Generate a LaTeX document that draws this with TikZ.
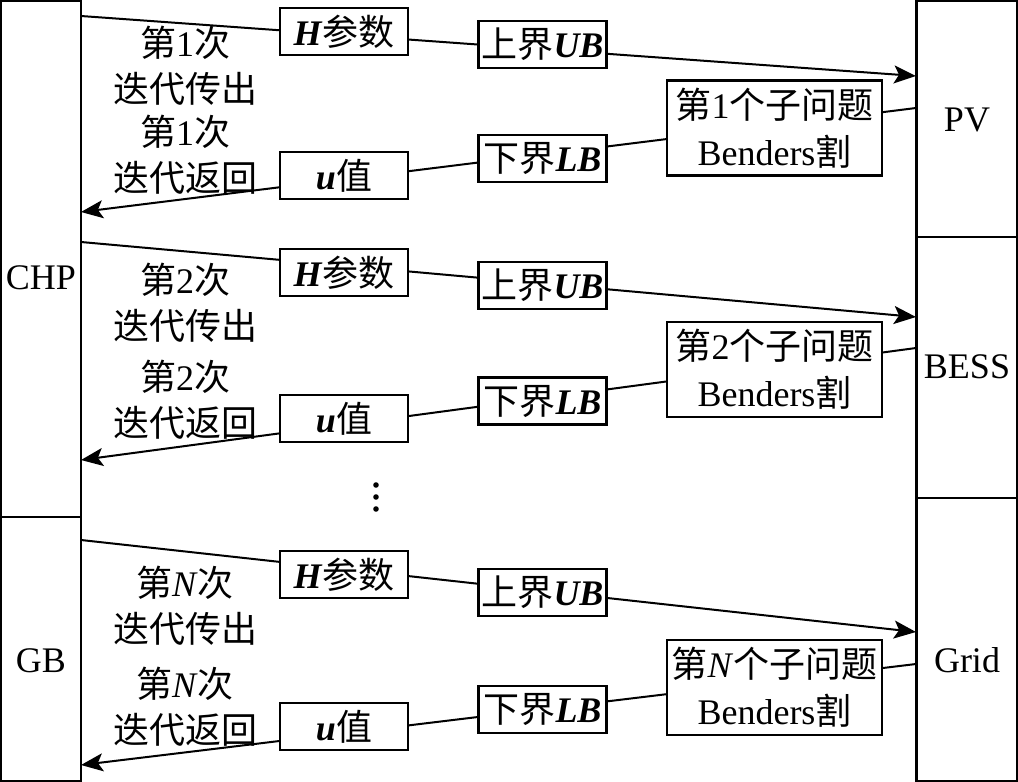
\documentclass[tikz,border=0pt]{standalone}
\usepackage{fontspec}
\setmainfont{Liberation Serif}
\newfontfamily\cjk{Noto Sans CJK SC}
\newcommand{\zh}[1]{{\cjk #1}}
\newcommand{\bi}[1]{\textbf{\textit{#1}}}
\usetikzlibrary{arrows.meta}
\begin{document}
\begin{tikzpicture}[x=0.5pt,y=-0.5pt,
  every node/.style={font=\fontsize{18}{23}\selectfont},
  box/.style={draw,line width=1.1pt,fill=white,inner sep=0pt,minimum width=64pt,minimum height=23.5pt},
  bbox/.style={draw,line width=1.1pt,fill=white,inner sep=0pt,minimum width=107.5pt,minimum height=47.5pt,align=center,font=\fontsize{18}{23.5}\selectfont},
  col/.style={draw,line width=1.1pt,inner sep=0pt},
  lbl/.style={align=center,inner sep=0pt},
  flow/.style={line width=1pt},
  arr/.style={flow,-{Stealth[length=11pt,width=9pt,inset=2.5pt]}}]
\useasboundingbox (0,0) rectangle (1018,782);
% columns
\node[col,minimum width=40pt,minimum height=258pt] (CHP) at (41,259) {};
\node[col,minimum width=40pt,minimum height=132pt] (GB) at (41,649) {};
\node[col,minimum width=50.5pt,minimum height=118pt] (PV) at (967,119) {};
\node[col,minimum width=50.5pt,minimum height=130.5pt] (BESS) at (967,367.5) {};
\node[col,minimum width=50.5pt,minimum height=141.5pt] (Grid) at (967,639.5) {};
\node (tCHP) at (41,278) {CHP};
\node (tGB) at (41,661) {GB};
\node (tPV) at (967,120) {PV};
\node (tBESS) at (967,367) {BESS};
\node (tGrid) at (967,660) {Grid};
% connector end points
\coordinate (s1) at (81,16);   \coordinate (e1) at (916,76);
\coordinate (r1) at (916,108); \coordinate (b1) at (81,212);
\coordinate (s2) at (81,242);  \coordinate (e2) at (916,317);
\coordinate (r2) at (916,348); \coordinate (b2) at (81,460);
\coordinate (s3) at (81,540);  \coordinate (e3) at (916,632);
\coordinate (r3) at (916,664); \coordinate (b3) at (81,765);
\draw[arr] (s1) -- (e1);
\draw[arr] (r1) -- (b1);
\draw[arr] (s2) -- (e2);
\draw[arr] (r2) -- (b2);
\draw[arr] (s3) -- (e3);
\draw[arr] (r3) -- (b3);
% row 1
\node[box] (H1) at (344,31.5) {\bi{H}\zh{参数}};
\node[box] (UB1) at (542.5,44.5) {\zh{上界}\bi{UB}};
\node[bbox] (BD1) at (774.5,128) {\zh{第}1\zh{个子问题}\\Benders\zh{割}};
\node[box] (LB1) at (542.5,158.5) {\zh{下界}\bi{LB}};
\node[box] (U1) at (344,175.5) {\bi{u}\zh{值}};
\node[lbl] (o1) at (185,66) {\zh{第}1\zh{次}\\\zh{迭代传出}};
\node[lbl] (i1) at (185,154.5) {\zh{第}1\zh{次}\\\zh{迭代返回}};
% row 2
\node[box] (H2) at (344,272.5) {\bi{H}\zh{参数}};
\node[box] (UB2) at (542.5,285.5) {\zh{上界}\bi{UB}};
\node[bbox] (BD2) at (774.5,369.5) {\zh{第}2\zh{个子问题}\\Benders\zh{割}};
\node[box] (LB2) at (542.5,401) {\zh{下界}\bi{LB}};
\node[box] (U2) at (344,418.5) {\bi{u}\zh{值}};
\node[lbl] (o2) at (185,302.5) {\zh{第}2\zh{次}\\\zh{迭代传出}};
\node[lbl] (i2) at (185,399.5) {\zh{第}2\zh{次}\\\zh{迭代返回}};
% row N
\node[box] (H3) at (344,574.5) {\bi{H}\zh{参数}};
\node[box] (UB3) at (542.5,592.5) {\zh{上界}\bi{UB}};
\node[bbox] (BD3) at (774.5,687.5) {\zh{第}\textit{N}\zh{个子问题}\\Benders\zh{割}};
\node[box] (LB3) at (542.5,709.5) {\zh{下界}\bi{LB}};
\node[box] (U3) at (344,726.5) {\bi{u}\zh{值}};
\node[lbl] (o3) at (185,606) {\zh{第}\textit{N}\zh{次}\\\zh{迭代传出}};
\node[lbl] (i3) at (185,706.5) {\zh{第}\textit{N}\zh{次}\\\zh{迭代返回}};
% ellipsis
\fill (376,485) circle (1.4pt) (376,497) circle (1.4pt) (376,509) circle (1.4pt);
\end{tikzpicture}
\end{document}
